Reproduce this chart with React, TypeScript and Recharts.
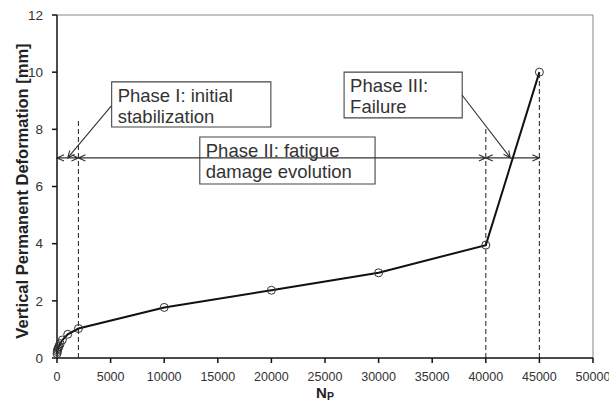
import { LineChart, Line, XAxis, YAxis, ReferenceLine, ReferenceArea } from "recharts"

// number of load cycles and measured permanent deformation (mm)
const nP = [0, 25, 50, 100, 150, 200, 300, 500, 1000, 2000, 10000, 20000, 30000, 40000, 45000]
const deformation = [0.15, 0.22, 0.28, 0.33, 0.38, 0.42, 0.5, 0.63, 0.83, 1.03, 1.77, 2.37, 2.98, 3.95, 10.0]

const xTicks = [0, 5000, 10000, 15000, 20000, 25000, 30000, 35000, 40000, 45000, 50000]
const yTicks = [0, 2, 4, 6, 8, 10, 12]

// phase boundaries (dashed lines): x position and top of the line
const boundaryX = [2000, 40000, 45000]
const boundaryTop = [8.4, 8.05, 10.0]

// double-headed arrows spanning each phase
const arrowY = 7.0
const phaseStart = [0, 2000, 40000]
const phaseEnd = [2000, 40000, 45000]

// text boxes
const phaseLabels = [
  ["Phase I: initial", "stabilization"],
  ["Phase II: fatigue", "damage evolution"],
  ["Phase III:", "Failure"],
]
const boxX1 = [5100, 13320, 26780]
const boxX2 = [19950, 29670, 37800]
const boxY1 = [8.08, 6.09, 8.4]
const boxY2 = [9.66, 7.73, 10.0]

// leader lines from box to arrow
const leaderFrom = [
  { x: 5070, y: 8.82 },
  { x: 37780, y: 9.2 },
]
const leaderTo = [
  { x: 1000, y: 7.0 },
  { x: 42290, y: 7.0 },
]

const data = nP.map((x, i) => ({ np: x, def: deformation[i] }))

const FONT = "Arial, 'Liberation Sans', sans-serif"

const head = (px: number, py: number, qx: number, qy: number) => {
  // arrowhead at p, coming from q
  const dx = px - qx
  const dy = py - qy
  const len = Math.sqrt(dx * dx + dy * dy) || 1
  const ux = dx / len
  const uy = dy / len
  const L = 7
  const W = 3.2
  const bx = px - ux * L
  const by = py - uy * L
  return `M${bx - uy * W},${by + ux * W} L${px},${py} L${bx + uy * W},${by - ux * W}`
}

const arrowShape = (atStart: boolean, atEnd: boolean) => (props: any) => {
  const { x1, y1, x2, y2 } = props
  let d = `M${x1},${y1} L${x2},${y2}`
  if (atStart) d += " " + head(x1, y1, x2, y2)
  if (atEnd) d += " " + head(x2, y2, x1, y1)
  return <path d={d} stroke="#333" strokeWidth={1.1} fill="none" />
}

const boxLabel = (lines: string[]) => (props: any) => {
  const { x, y } = props.viewBox
  return (
    <text x={x + 6} y={y + 20} fontFamily={FONT} fontSize={18.5} fill="#333">
      <tspan x={x + 6} y={y + 20}>{lines[0]}</tspan>
      <tspan x={x + 6} y={y + 41}>{lines[1]}</tspan>
    </text>
  )
}

const YTitle = () => (
  <text
    x={22}
    y={191}
    transform="rotate(-90, 22, 191)"
    textAnchor="middle"
    dominantBaseline="central"
    fontFamily={FONT}
    fontSize={16.5}
    fontWeight="bold"
    fill="#222"
  >
    Vertical Permanent Deformation [mm]
  </text>
)

const XTitle = () => (
  <text x={325} y={398} textAnchor="middle" fontFamily={FONT} fontWeight="bold" fill="#222">
    <tspan fontSize={15}>N</tspan>
    <tspan fontSize={10.5} dy={2}>P</tspan>
  </text>
)

export default function App() {
  return (
    <div style={{ position: "absolute", left: 0, top: 0, width: 609, height: 404, background: "#fff" }}>
      <LineChart width={609} height={404} data={data} margin={{ top: 15, right: 16, left: 0, bottom: 0 }}>
        <XAxis
          dataKey="np"
          type="number"
          domain={[0, 50000]}
          ticks={xTicks}
          interval={0}
          height={46}
          stroke="#111"
          strokeWidth={1.5}
          tickSize={5}
          tickMargin={9}
          tick={{ fontSize: 12.5, fill: "#333", fontFamily: FONT }}
          label={<XTitle />}
        />
        <YAxis
          type="number"
          domain={[0, 12]}
          ticks={yTicks}
          interval={0}
          width={57}
          stroke="#111"
          strokeWidth={1.5}
          tickSize={5}
          tickMargin={9}
          tick={{ fontSize: 13.5, fill: "#333", fontFamily: FONT }}
          label={<YTitle />}
        />
        <ReferenceLine y={12} stroke="#888" strokeWidth={1} />
        <ReferenceLine x={50000} stroke="#888" strokeWidth={1} />
        {boundaryX.map((x, i) => (
          <ReferenceLine
            key={`b-${i}`}
            segment={[
              { x, y: 0 },
              { x, y: boundaryTop[i] },
            ]}
            stroke="#333"
            strokeWidth={1.1}
            strokeDasharray="5 3"
            ifOverflow="visible"
          />
        ))}
        {phaseStart.map((s, i) => (
          <ReferenceLine
            key={`a-${i}`}
            segment={[
              { x: s, y: arrowY },
              { x: phaseEnd[i], y: arrowY },
            ]}
            shape={arrowShape(true, true)}
            ifOverflow="visible"
          />
        ))}
        {leaderFrom.map((p, i) => (
          <ReferenceLine
            key={`l-${i}`}
            segment={[p, leaderTo[i]]}
            shape={arrowShape(false, true)}
            ifOverflow="visible"
          />
        ))}
        {phaseLabels.map((lines, i) => (
          <ReferenceArea
            key={`box-${i}`}
            x1={boxX1[i]}
            x2={boxX2[i]}
            y1={boxY1[i]}
            y2={boxY2[i]}
            fill="#fff"
            fillOpacity={1}
            stroke="#444"
            strokeWidth={1.1}
            ifOverflow="visible"
            label={boxLabel(lines)}
          />
        ))}
        <Line
          type="linear"
          dataKey="def"
          stroke="#111"
          strokeWidth={2}
          dot={{ r: 4, stroke: "#333", strokeWidth: 1, fill: "none" }}
          isAnimationActive={false}
        />
      </LineChart>
    </div>
  )
}
